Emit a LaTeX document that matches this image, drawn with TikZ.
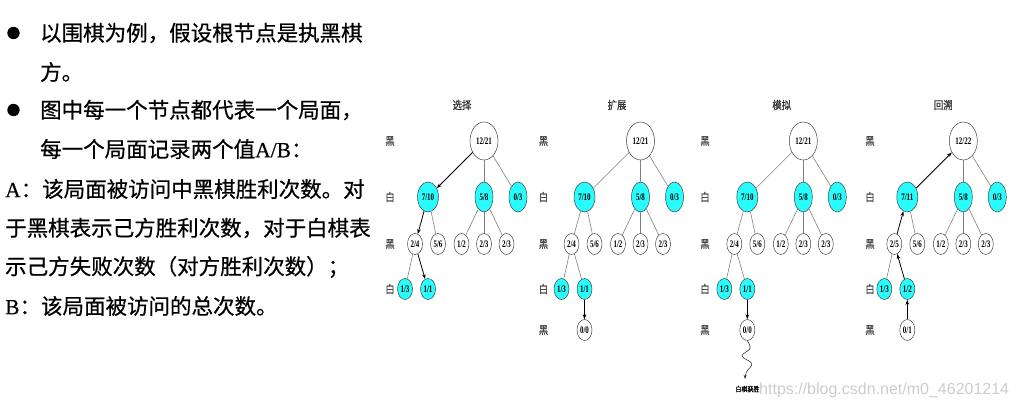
\documentclass[tikz,border=0pt]{standalone}
\usepackage{fontspec}
\usetikzlibrary{arrows.meta,shapes.geometric}
\newfontfamily\cjk[FakeBold=0.6]{Noto Sans CJK SC}
\newfontfamily\cjks[FakeBold=0.8,FakeStretch=0.85]{Noto Sans CJK SC}
\newfontfamily\lat[FakeBold=0.4]{Liberation Serif}
\newfontfamily\nf[FakeStretch=0.7]{Liberation Serif}
\newfontfamily\wm{Liberation Sans}
\newcommand\latin[1]{{\lat #1}}
\definecolor{cy}{RGB}{40,252,252}
\tikzset{
 txt/.style={anchor=west, inner sep=0pt, font=\cjk\fontsize{21.5}{26}\selectfont},
 nd/.style={ellipse, draw=black!75, line width=0.5pt, inner sep=0pt, font=\nf\bfseries\fontsize{10}{10}\selectfont, minimum width=15pt, minimum height=21pt},
 cnd/.style={nd, fill=cy},
 mid/.style={cnd, minimum width=18pt, minimum height=30pt},
 rt/.style={nd, minimum width=28pt, minimum height=38pt},
 lbl/.style={font=\cjks\fontsize{11}{11}\selectfont, text=black!70, inner sep=0pt},
 ttl/.style={font=\cjks\fontsize{11}{11}\selectfont, text=black!80, inner sep=0pt},
 ed/.style={draw=black!50, line width=0.6pt},
 ar/.style={draw=black, line width=0.8pt, -{Stealth[length=5pt,width=3.6pt]}},
}
\begin{document}
\begin{tikzpicture}[x=1pt,y=-1pt]
\useasboundingbox (0,0) rectangle (1017,409);
% left text
\fill (13.5,33) circle (6.2);
\fill (13.5,110) circle (6.2);
\node[txt] (l1) at (40,33) {以围棋为例，假设根节点是执黑棋};
\node[txt] (l2) at (40,72) {方。};
\node[txt] (l3) at (40,110) {图中每一个节点都代表一个局面，};
\node[txt] (l4) at (40,149) {每一个局面记录两个值\latin{A/B}：};
\node[txt] (l5) at (5,189) {\latin{A}：该局面被访问中黑棋胜利次数。对};
\node[txt] (l6) at (5,228) {于黑棋表示己方胜利次数，对于白棋表};
\node[txt] (l7) at (5,267) {示己方失败次数（对方胜利次数）；};
\node[txt] (l8) at (5,306) {\latin{B}：该局面被访问的总次数。};

% tree 1
\begin{scope}
\node[ttl] (t1) at (462,105) {选择};
\node[lbl] (p11) at (390,141) {黑};
\node[lbl] (p12) at (390,197) {白};
\node[lbl] (p13) at (390,244) {黑};
\node[lbl] (p14) at (390,289) {白};
\node[rt] (a1) at (484,141) {12/21};
\node[mid, minimum width=21pt] (b1) at (428,197) {7/10};
\node[mid] (c1) at (484,197) {5/8};
\node[mid] (d1) at (518,197) {0/3};
\node[nd] (e1) at (415,244) {2/4};
\node[nd] (f1) at (438,244) {5/6};
\node[nd] (g1) at (461.5,244) {1/2};
\node[nd] (h1) at (484,244) {2/3};
\node[nd] (i1) at (506.5,244) {2/3};
\node[cnd] (j1) at (405,289) {1/3};
\node[cnd] (k1) at (428,289) {1/1};
\draw[ar] (a1) -- (b1);
\draw[ed] (a1) -- (c1);
\draw[ed] (a1) -- (d1);
\draw[ar] (b1) -- (e1);
\draw[ed] (b1) -- (f1);
\draw[ed] (c1) -- (g1);
\draw[ed] (c1) -- (h1);
\draw[ed] (c1) -- (i1);
\draw[ed] (e1) -- (j1);
\draw[ar] (e1) -- (k1);
\end{scope}

% tree 2
\begin{scope}[xshift=156.5pt]
\node[ttl] (t2) at (460.5,105) {扩展};
\node[lbl] (p21) at (387,141) {黑};
\node[lbl] (p22) at (387,197) {白};
\node[lbl] (p23) at (387,244) {黑};
\node[lbl] (p24) at (387,289) {白};
\node[lbl] (p25) at (387,330) {黑};
\node[rt] (a2) at (484,141) {12/21};
\node[mid, minimum width=21pt] (b2) at (428,197) {7/10};
\node[mid] (c2) at (484,197) {5/8};
\node[mid] (d2) at (518,197) {0/3};
\node[nd] (e2) at (415,244) {2/4};
\node[nd] (f2) at (438,244) {5/6};
\node[nd] (g2) at (461.5,244) {1/2};
\node[nd] (h2) at (484,244) {2/3};
\node[nd] (i2) at (506.5,244) {2/3};
\node[cnd] (j2) at (405,289) {1/3};
\node[cnd] (k2) at (428,289) {1/1};
\node[nd] (m2) at (428,330) {0/0};
\draw[ed] (a2) -- (b2);
\draw[ed] (a2) -- (c2);
\draw[ed] (a2) -- (d2);
\draw[ed] (b2) -- (e2);
\draw[ed] (b2) -- (f2);
\draw[ed] (c2) -- (g2);
\draw[ed] (c2) -- (h2);
\draw[ed] (c2) -- (i2);
\draw[ed] (e2) -- (j2);
\draw[ed] (e2) -- (k2);
\draw[ar] (k2) -- (m2);
\end{scope}

% tree 3
\begin{scope}[xshift=319.3pt]
\node[ttl] (t3) at (462.4,105) {模拟};
\node[lbl] (p31) at (385.7,141) {黑};
\node[lbl] (p32) at (385.7,197) {白};
\node[lbl] (p33) at (385.7,244) {黑};
\node[lbl] (p34) at (385.7,289) {白};
\node[lbl] (p35) at (385.7,330) {黑};
\node[rt] (a3) at (484,141) {12/21};
\node[mid, minimum width=21pt] (b3) at (428,197) {7/10};
\node[mid] (c3) at (484,197) {5/8};
\node[mid] (d3) at (518,197) {0/3};
\node[nd] (e3) at (415,244) {2/4};
\node[nd] (f3) at (438,244) {5/6};
\node[nd] (g3) at (461.5,244) {1/2};
\node[nd] (h3) at (484,244) {2/3};
\node[nd] (i3) at (506.5,244) {2/3};
\node[cnd] (j3) at (405,289) {1/3};
\node[cnd] (k3) at (428,289) {1/1};
\node[nd] (m3) at (428,330) {0/0};
\coordinate (q3) at (425.7,379);
\node[font=\cjks\fontsize{7}{7}\selectfont, inner sep=0pt] (w3) at (428.2,389) {白棋获胜};
\draw[ed] (a3) -- (b3);
\draw[ed] (a3) -- (c3);
\draw[ed] (a3) -- (d3);
\draw[ed] (b3) -- (e3);
\draw[ed] (b3) -- (f3);
\draw[ed] (c3) -- (g3);
\draw[ed] (c3) -- (h3);
\draw[ed] (c3) -- (i3);
\draw[ed] (e3) -- (j3);
\draw[ed] (e3) -- (k3);
\draw[ar] (k3) -- (m3);
\draw[draw=black!80, line width=0.6pt, -{Stealth[length=4pt,width=3pt]}] plot[smooth, tension=0.7] coordinates {(m3.south) (430.7,348.5) (422.7,356) (432.4,363.5) (427.2,372) (q3)};
\end{scope}

% tree 4
\begin{scope}[xshift=479.3pt]
\node[ttl] (t4) at (464,105) {回溯};
\node[lbl] (p41) at (390.7,141) {黑};
\node[lbl] (p42) at (390.7,197) {白};
\node[lbl] (p43) at (390.7,244) {黑};
\node[lbl] (p44) at (390.7,289) {白};
\node[lbl] (p45) at (390.7,330) {黑};
\node[rt] (a4) at (484,141) {12/22};
\node[mid, minimum width=21pt] (b4) at (428,197) {7/11};
\node[mid] (c4) at (484,197) {5/8};
\node[mid] (d4) at (518,197) {0/3};
\node[nd] (e4) at (415,244) {2/5};
\node[nd] (f4) at (438,244) {5/6};
\node[nd] (g4) at (461.5,244) {1/2};
\node[nd] (h4) at (484,244) {2/3};
\node[nd] (i4) at (506.5,244) {2/3};
\node[cnd] (j4) at (405,289) {1/3};
\node[cnd] (k4) at (428,289) {1/2};
\node[nd] (m4) at (428,330) {0/1};
\draw[ar] (b4) -- (a4);
\draw[ed] (a4) -- (c4);
\draw[ed] (a4) -- (d4);
\draw[ar] (e4) -- (b4);
\draw[ed] (b4) -- (f4);
\draw[ed] (c4) -- (g4);
\draw[ed] (c4) -- (h4);
\draw[ed] (c4) -- (i4);
\draw[ed] (e4) -- (j4);
\draw[ar] (k4) -- (e4);
\draw[ar] (m4) -- (k4);
\end{scope}

% watermark
\node[anchor=base west, inner sep=0pt, font=\wm\fontsize{16}{16}\selectfont, text=black!20] (wm) at (759,394.5) {https://blog.csdn.net/m0\_46201214};
\end{tikzpicture}
\end{document}
